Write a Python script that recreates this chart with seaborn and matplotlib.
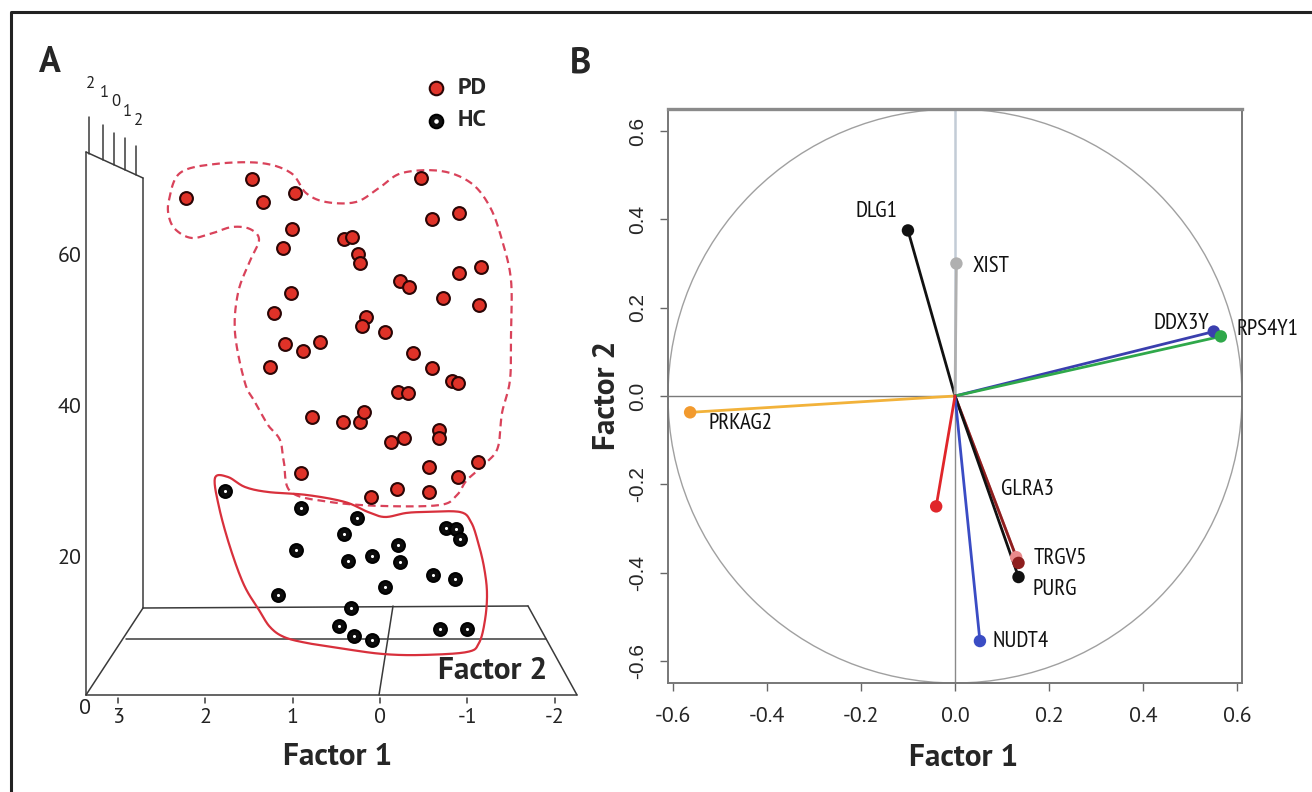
import numpy as np
import pandas as pd
import matplotlib
matplotlib.use('Agg')
import matplotlib.pyplot as plt
import seaborn as sns
from matplotlib import font_manager as fm
from matplotlib.patches import Ellipse

# ---------------- Panel A data (projected Factor 1, vertical value) ----------------
pd_factor1 = [2.22, 1.46, 1.34, 0.97, -0.47, -0.59, -0.90, 1.01, 1.11, 0.41, 0.32, 0.25,
              0.23, -0.23, -0.33, -0.90, -1.16, -0.72, -1.13, 1.02, 1.21, 0.16, 0.21, -0.06,
              1.09, 0.88, 0.69, 1.26, -0.38, -0.59, -0.82, -0.89, -0.21, -0.32, 0.78, 0.42,
              0.23, 0.18, -0.13, -0.27, -0.68, -0.68, 0.90, -0.56, -1.12, -0.89, 0.10, -0.19,
              -0.56]
pd_height = [67.7, 70.2, 67.2, 68.3, 70.3, 64.9, 65.7, 63.6, 61.1, 62.3, 62.5, 60.3,
             59.1, 56.7, 55.9, 57.7, 58.5, 54.4, 53.5, 55.1, 52.5, 51.9, 50.7, 49.9,
             48.3, 47.4, 48.6, 45.3, 47.2, 45.2, 43.4, 43.2, 42.0, 41.9, 38.7, 38.0,
             38.0, 39.3, 35.4, 35.9, 37.0, 35.9, 31.3, 32.1, 32.7, 30.7, 28.1, 29.1,
             28.7]
hc_factor1 = [1.77, 0.90, 0.26, 0.41, 0.96, 0.37, 0.09, -0.21, -0.23, -0.76, -0.87,
              -0.92, -0.61, -0.86, -0.06, 1.17, 0.33, 0.47, 0.30, 0.09, -0.69, -1.00]
hc_height = [28.9, 26.6, 25.3, 23.2, 21.1, 19.6, 20.3, 21.7, 19.5, 24.0, 23.8,
             22.5, 17.7, 17.2, 16.2, 15.1, 13.4, 11.0, 9.7, 9.1, 10.6, 10.6]
group_names = ['PD', 'HC']
factor1_ticks = [3, 2, 1, 0, -1, -2]
height_ticks = [20, 40, 60]
factor2_tick_labels = ['2', '1', '0', '1', '2']

# ---------------- Panel B data (loadings) ----------------
gene_names = ['GLRA3', 'DLG1', 'XIST', 'DDX3Y', 'RPS4Y1', 'PRKAG2', 'TRGV5', 'PURG',
              'NUDT4', 'unlabeled']
loading_f1 = [0.130, -0.100, 0.003, 0.550, 0.565, -0.563, 0.135, 0.135, 0.053, -0.040]
loading_f2 = [-0.365, 0.375, 0.300, 0.146, 0.135, -0.037, -0.378, -0.410, -0.555, -0.250]
b_ticks = [-0.6, -0.4, -0.2, 0.0, 0.2, 0.4, 0.6]

# ---------------- styling ----------------
gene_colors = {'GLRA3': '#e98a8c', 'DLG1': '#111111', 'XIST': '#b0b0b0',
               'DDX3Y': '#3a3fae', 'RPS4Y1': '#2fa84a', 'PRKAG2': '#f29a2e',
               'TRGV5': '#8e1f1f', 'PURG': '#111111', 'NUDT4': '#3a4cc4',
               'unlabeled': '#e0262a'}
line_colors = dict(gene_colors, PRKAG2='#f2b23a')
label_pos = {'DLG1': (-0.168, 0.417), 'XIST': (0.077, 0.294), 'DDX3Y': (0.480, 0.165),
             'RPS4Y1': (0.664, 0.150), 'PRKAG2': (-0.455, -0.063), 'GLRA3': (0.155, -0.211),
             'TRGV5': (0.223, -0.369), 'PURG': (0.2125, -0.439), 'NUDT4': (0.140, -0.557)}

sns.set_theme(style='white')
plt.rcParams['font.family'] = ['Liberation Sans', 'DejaVu Sans']


def _w(f):
    w = f.weight
    if isinstance(w, str):
        w = {'bold': 700, 'normal': 400, 'regular': 400}.get(w.lower(), 400)
    return w


def pick(cands, bold=False):
    for c in cands:
        for f in fm.fontManager.ttflist:
            if f.name == c and f.style == 'normal':
                if (bold and _w(f) >= 600) or (not bold and 350 <= _w(f) <= 500):
                    return c
    return cands[-1]


bold_font = pick(['Source Sans 3', 'Source Sans Pro', 'PT Sans', 'Liberation Sans'], bold=True)
reg_font = pick(['Source Sans 3', 'Source Sans Pro', 'PT Sans', 'Liberation Sans'])
cond_font = pick(['PT Sans Narrow', 'Roboto Condensed', 'Archivo Narrow', 'Asap Condensed',
                  'Fira Sans Condensed', 'IBM Plex Sans Condensed', 'Liberation Sans'])
scale = {'Source Sans 3': 1.12, 'Source Sans Pro': 1.12, 'PT Sans': 1.05,
         'Liberation Sans': 1.0}
bsz = 21.5 * scale.get(bold_font, 1.0)
rsz = 15 * scale.get(reg_font, 1.0)
csz = 16.5 if cond_font != 'Liberation Sans' else 13.5
HEAVY = 800

W, H = 1312, 792
fig = plt.figure(figsize=(W / 100, H / 100), dpi=100)
fig.patch.set_facecolor('white')

# decoration layer in pixel coordinates
deco = fig.add_axes([0, 0, 1, 1], zorder=0)
deco.set_xlim(0, W)
deco.set_ylim(H, 0)
deco.axis('off')

# outer frame
deco.plot([11, 11, 1330], [820, 12, 12], color='#222222', lw=2.2, solid_capstyle='butt')

# panel letters
deco.text(50, 63, 'A', family=bold_font, fontsize=bsz * 1.15, fontweight=HEAVY, ha='center', va='center')
deco.text(581, 63, 'B', family=bold_font, fontsize=bsz * 1.15, fontweight=HEAVY, ha='center', va='center')

# pseudo-3D box of panel A
fc = '#3a3a3a'
segs = [((86, 152), (86, 695)), ((143, 178), (143, 608)), ((86, 152), (143, 178)),
        ((143, 608), (528, 606)), ((126, 639), (546, 639)), ((86, 695), (577, 695)),
        ((143, 608), (86, 695)), ((528, 606), (577, 695)), ((393, 606), (379, 695))]
for (x0, y0), (x1, y1) in segs:
    deco.plot([x0, x1], [y0, y1], color=fc, lw=1.1)
for tx, ty0, ty1 in [(89, 117, 154), (103, 125, 160), (114, 133, 165), (125, 138, 170), (136, 146, 175)]:
    deco.plot([tx, tx], [ty0, ty1], color=fc, lw=1.1)
for (tx, ty), lab in zip([(90, 84), (104, 93), (116, 102), (127, 112), (138, 121)], factor2_tick_labels):
    deco.text(tx, ty, lab, family=reg_font, fontsize=11.5 * scale.get(reg_font, 1.0),
              ha='center', va='center', color='#222222')


def smooth_closed(pts, n=14):
    P = np.array(pts, float)
    N = len(P)
    out = []
    t = np.linspace(0, 1, n, endpoint=False)[:, None]
    for i in range(N):
        p0, p1, p2, p3 = P[i - 1], P[i], P[(i + 1) % N], P[(i + 2) % N]
        out.append(0.5 * ((2 * p1) + (-p0 + p2) * t + (2 * p0 - 5 * p1 + 4 * p2 - p3) * t ** 2
                          + (-p0 + 3 * p1 - 3 * p2 + p3) * t ** 3))
    out = np.vstack(out)
    return np.vstack([out, out[:1]])


pd_outline = [(169, 200), (180, 173), (215, 164), (261, 163), (291, 173), (306, 193), (326, 202),
              (356, 202), (379, 188), (402, 173), (441, 171), (471, 183), (490, 207), (502, 240),
              (511, 280), (511, 333), (510, 380), (502, 413), (498, 447), (487, 462), (467, 480),
              (457, 495), (440, 505), (383, 506), (330, 502), (291, 492), (284, 463), (280, 440),
              (268, 425), (255, 402), (245, 383), (235, 333), (238, 293), (249, 263), (259, 240),
              (250, 229), (232, 227), (213, 233), (192, 238), (176, 230), (169, 217)]
hc_outline = [(215, 478), (228, 477), (245, 487), (268, 492), (307, 495), (345, 502), (368, 512),
              (385, 517), (406, 513), (425, 512), (460, 512), (471, 522), (478, 542), (484, 567),
              (487, 593), (485, 620), (479, 643), (467, 652), (421, 655), (383, 654), (345, 649),
              (307, 643), (284, 637), (270, 627), (259, 610), (244, 585), (230, 547), (219, 507)]
p = smooth_closed(pd_outline)
deco.plot(p[:, 0], p[:, 1], color='#d9425a', lw=1.6, ls=(0, (3.5, 2.2)))
p = smooth_closed(hc_outline)
deco.plot(p[:, 0], p[:, 1], color='#d8303c', lw=1.6)

# legend of panel A
deco.scatter([436], [88], s=95, c='#e0352b', edgecolors='#2a0505', linewidths=1.5, zorder=5)
deco.scatter([436], [121], s=95, c='#111111', edgecolors='#000000', linewidths=1.5, zorder=5)
deco.scatter([436], [121], s=5, c='white', zorder=6)
deco.text(458, 88, 'PD', family=bold_font, fontsize=bsz * 0.76, fontweight=HEAVY,
          va='center', ha='left')
deco.text(458, 121, 'HC', family=bold_font, fontsize=bsz * 0.76, fontweight=HEAVY,
          va='center', ha='left')

# axis titles of panel A
deco.text(493, 671, 'Factor 2', family=bold_font, fontsize=bsz, fontweight=HEAVY,
          ha='center', va='center')
deco.text(338, 757, 'Factor 1', family=bold_font, fontsize=bsz, fontweight=HEAVY,
          ha='center', va='center')

# ---------------- Panel A points ----------------
ax_a = fig.add_axes([0, 0, 603.52 / W, 1], zorder=2)
ax_a.patch.set_alpha(0)
ax_a.axis('off')

df_a = pd.DataFrame({
    'factor1': pd_factor1 + hc_factor1,
    'height': pd_height + hc_height,
    'group': [group_names[0]] * len(pd_factor1) + [group_names[1]] * len(hc_factor1),
})
sns.scatterplot(data=df_a[df_a.group == 'PD'], x='factor1', y='height', color='#df3228',
                edgecolor='#2a0505', linewidth=1.5, s=85, ax=ax_a, legend=False, zorder=3)
sns.scatterplot(data=df_a[df_a.group == 'HC'], x='factor1', y='height', color='#0d0d0d',
                edgecolor='#000000', linewidth=1.5, s=85, ax=ax_a, legend=False, zorder=3)
sns.scatterplot(data=df_a[df_a.group == 'HC'], x='factor1', y='height', color='white',
                linewidth=0, s=5, ax=ax_a, legend=False, zorder=4)
ax_a.set_xlim(4.348, -2.557)
ax_a.set_ylim(-10.99, 93.91)
ax_a.axis('off')

for f in factor1_ticks:
    ax_a.plot([f, f], [1.5, 0.8], color=fc, lw=1.1)
    ax_a.text(f, -1.1, '%g' % f, family=reg_font, fontsize=rsz, ha='center',
              va='center', color='#222222')
for hv in height_ticks:
    ax_a.text(3.41, hv, str(hv), family=reg_font, fontsize=rsz, ha='right', va='center',
              color='#222222')
ax_a.text(3.375, 0.1, '0', family=reg_font, fontsize=rsz, ha='center', va='center',
          color='#222222')

# ---------------- Panel B ----------------
ax_b = fig.add_axes([668 / W, (H - 683) / H, 574 / W, 574 / H], zorder=1)
ax_b.add_patch(Ellipse((0, 0), 1.22, 1.30, fill=False, ec='#a0a0a0', lw=1.0))
ax_b.axhline(0, color='#7a7a7a', lw=1.0)
ax_b.plot([0, 0], [0, 0.65], color='#c3ccd6', lw=1.8)
ax_b.plot([0, 0], [-0.65, 0], color='#8a8a8a', lw=1.0)

for g, x, y in zip(gene_names, loading_f1, loading_f2):
    ax_b.plot([0, x], [0, y], color=line_colors[g], lw=2.0, solid_capstyle='round')

df_b = pd.DataFrame({'gene': gene_names, 'f1': loading_f1, 'f2': loading_f2})
sns.scatterplot(data=df_b, x='f1', y='f2', hue='gene', palette=gene_colors, s=80,
                linewidth=0, ax=ax_b, legend=False, zorder=5)

for g, (lx, ly) in label_pos.items():
    ax_b.text(lx, ly, g, family=cond_font, fontsize=csz, ha='center', va='center',
              color='#111111', clip_on=False)

ax_b.set_xlim(-0.61, 0.61)
ax_b.set_ylim(-0.65, 0.65)
ax_b.set_xticks(b_ticks)
ax_b.set_yticks(b_ticks)
ax_b.set_xticklabels(['%.1f' % v for v in b_ticks], family=reg_font, fontsize=rsz)
ax_b.set_yticklabels(['%.1f' % v for v in b_ticks], fontsize=15, rotation=90, va='center')
ax_b.tick_params(axis='x', length=6, width=1, color='#666666', pad=11, direction='out', bottom=True)
ax_b.tick_params(axis='y', length=6, width=1, color='#666666', pad=9, direction='out', left=True)
for side, s in ax_b.spines.items():
    s.set_color('#777777')
    s.set_linewidth(1.4)
ax_b.spines['top'].set_linewidth(2.4)
ax_b.spines['top'].set_color('#8a8a8a')
ax_b.set_xlabel('')
ax_b.set_ylabel('')
fig.text(964 / W, 1 - 758 / H, 'Factor 1', family=bold_font, fontsize=bsz, fontweight=HEAVY,
         ha='center', va='center')
fig.text(607 / W, 1 - 395 / H, 'Factor 2', family=bold_font, fontsize=bsz, fontweight=HEAVY,
         ha='center', va='center', rotation=90)

fig.savefig('out.png', dpi=100)
